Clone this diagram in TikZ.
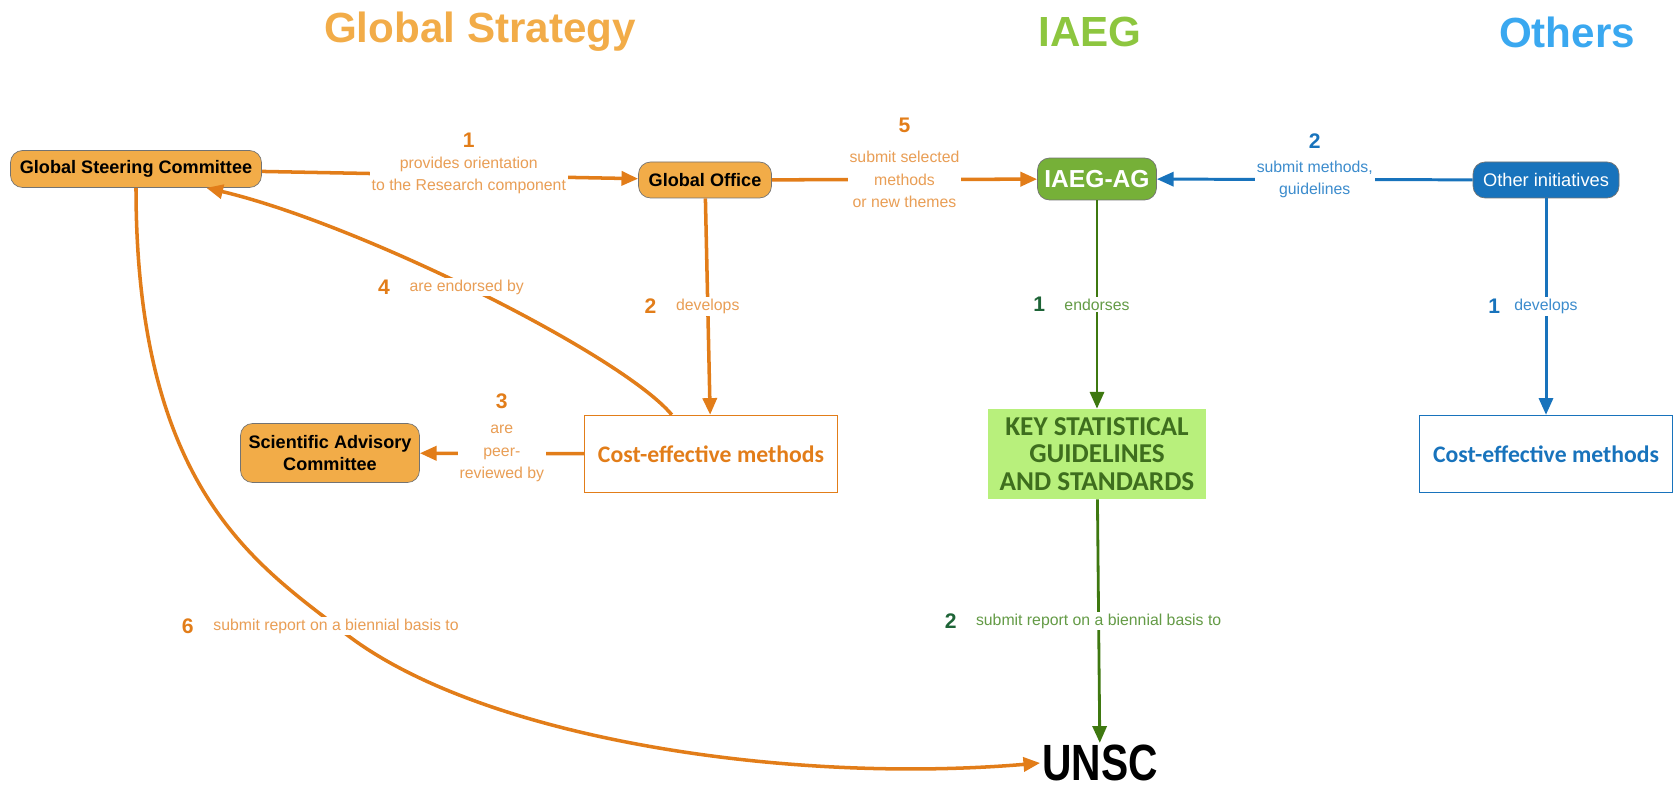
\documentclass[tikz,border=0pt]{standalone}
\usepackage{fontspec}
\setmainfont{Liberation Sans}
\newfontfamily\gillfont{Carlito}
\usetikzlibrary{positioning,arrows.meta}

\definecolor{gsfill}{RGB}{242,172,72}
\definecolor{oline}{RGB}{226,125,25}
\definecolor{otxt}{RGB}{233,158,85}
\definecolor{iaegtitle}{RGB}{141,198,63}
\definecolor{iaegfill}{RGB}{118,176,56}
\definecolor{gline}{RGB}{62,120,16}
\definecolor{gnumc}{RGB}{30,100,55}
\definecolor{gtxt}{RGB}{100,155,70}
\definecolor{keyfill}{RGB}{184,240,124}
\definecolor{keytxt}{RGB}{62,110,30}
\definecolor{othtitle}{RGB}{58,168,240}
\definecolor{bfill}{RGB}{24,115,188}
\definecolor{btxt}{RGB}{60,140,205}

\tikzset{
  heading/.style={font=\fontsize{24}{28}\selectfont\bfseries},
  obox/.style={draw=black!55, fill=gsfill, rounded corners=0.24cm, inner sep=0pt, align=center, font=\fontsize{10.3}{13}\selectfont\bfseries},
  gbox/.style={draw=black!55, fill=iaegfill, rounded corners=0.24cm, inner sep=0pt, text=white, minimum width=2.38cm, minimum height=0.84cm, font=\fontsize{14}{16}\selectfont\bfseries},
  bbox/.style={draw=black!55, fill=bfill, rounded corners=0.24cm, inner sep=0pt, text=white, minimum width=2.92cm, minimum height=0.72cm, font=\fontsize{10.4}{13}\selectfont},
  methbox/.style={draw, line width=0.8pt, inner sep=0pt, minimum width=5.06cm, minimum height=1.54cm, font=\gillfont\bfseries\fontsize{13.5}{16}\selectfont},
  keybox/.style={fill=keyfill, text=keytxt, inner sep=0pt, align=center, minimum width=4.36cm, minimum height=1.8cm, font=\gillfont\bfseries\fontsize{15.5}{15.5}\selectfont},
  olink/.style={draw=oline, line width=2pt},
  glink/.style={draw=gline, line width=1.6pt},
  blink/.style={draw=bfill, line width=1.7pt},
  lbl/.style={fill=white, inner sep=1pt, align=center, font=\fontsize{9}{13}\selectfont},
  num/.style={inner sep=1pt, font=\fontsize{12}{14}\selectfont\bfseries},
}

\begin{document}
\begin{tikzpicture}[x=0.02cm, y=-0.02cm, >={Triangle[length=9.5pt,width=8pt]}]
  \useasboundingbox (0,0) rectangle (1674,790); % page

  \node[heading, text=gsfill] (hgs) at (480,32) {Global Strategy}; % headings
  \node[heading, text=iaegtitle] (hiaeg) at (1090,32) {IAEG};
  \node[heading, text=othtitle] (hoth) at (1567,32) {Others};

  \node[obox, minimum width=5.02cm, minimum height=0.74cm] (gsc) at (136,169) {Global Steering Committee};
  \node[obox, minimum width=2.66cm, minimum height=0.72cm] (go) at (705,180) {Global Office};
  \node[gbox] (iaeg) at (1097,179) {IAEG-AG};
  \node[bbox] (oth) at (1546,180) {Other initiatives};
  \node[obox, minimum width=3.58cm, minimum height=1.18cm] (sac) at (330,453) {Scientific Advisory\\Committee};
  \node[methbox, draw=oline, text=oline] (ocost) at (711,454) {Cost-effective methods};
  \node[keybox] (key) at (1097,454) {KEY STATISTICAL\\GUIDELINES\\AND STANDARDS};
  \node[methbox, draw=bfill, text=bfill] (bcost) at (1546,454) {Cost-effective methods};
  \node[inner sep=1pt, font=\fontsize{29}{29}\selectfont\bfseries] (unsc) at (1100,763) {\scalebox{0.8}[1]{UNSC}};
  \coordinate (bend6) at (336,626); % where the long curve crosses its label

  % Global Strategy
  \draw[olink][->] (gsc) -- node[lbl, text=otxt, pos=0.55] (l1) {provides orientation\\to the Research component} (go); % orientation
  \node[num, text=oline, above=2pt of l1] (n1) {1};
  \draw[olink][->] (go) -- node[lbl, text=otxt] (l2) {develops} (ocost); % develops
  \node[num, text=oline, left=8pt of l2] (n2) {2};
  \draw[olink][->] (ocost) -- node[lbl, text=otxt] (l3) {are\\peer-\\reviewed by} (sac); % peer review
  \node[num, text=oline, above=6pt of l3] (n3) {3};
  \draw[olink][->] (ocost.135) .. controls +(-50,-60) and +(153,36) .. node[lbl, text=otxt, pos=0.52] (l4) {are endorsed by} (gsc.-15); % endorsement
  \node[num, text=oline, left=8pt of l4] (n4) {4};
  \draw[olink][->] (go) -- node[lbl, text=otxt] (l5) {submit selected\\methods\\or new themes} (iaeg); % to IAEG
  \node[num, text=oline, above=7pt of l5] (n5) {5};
  \draw[olink][->] (gsc.south) .. controls +(0,292) and +(-86,-66) .. (bend6) node[lbl, text=otxt] (l6) {submit report on a biennial basis to}
    .. controls +(130,110) and +(-260,22) .. (unsc.west); % report
  \node[num, text=oline, left=8pt of l6] (n6) {6};

  % IAEG
  \draw[glink][->] (iaeg) -- node[lbl, text=gtxt] (lg1) {endorses} (key); % endorses
  \node[num, text=gnumc, left=8pt of lg1] (ng1) {1};
  \draw[glink][->] (key) -- node[lbl, text=gtxt] (lg2) {submit report on a biennial basis to} (unsc); % report
  \node[num, text=gnumc, left=8pt of lg2] (ng2) {2};

  % Others
  \draw[blink][->] (oth) -- node[lbl, text=btxt] (lb1) {develops} (bcost); % develops
  \node[num, text=bfill, left=5pt of lb1] (nb1) {1};
  \draw[blink][->] (oth) -- node[lbl, text=btxt] (lb2) {submit methods,\\guidelines} (iaeg); % to IAEG
  \node[num, text=bfill, above=4pt of lb2] (nb2) {2};
\end{tikzpicture}
\end{document}
